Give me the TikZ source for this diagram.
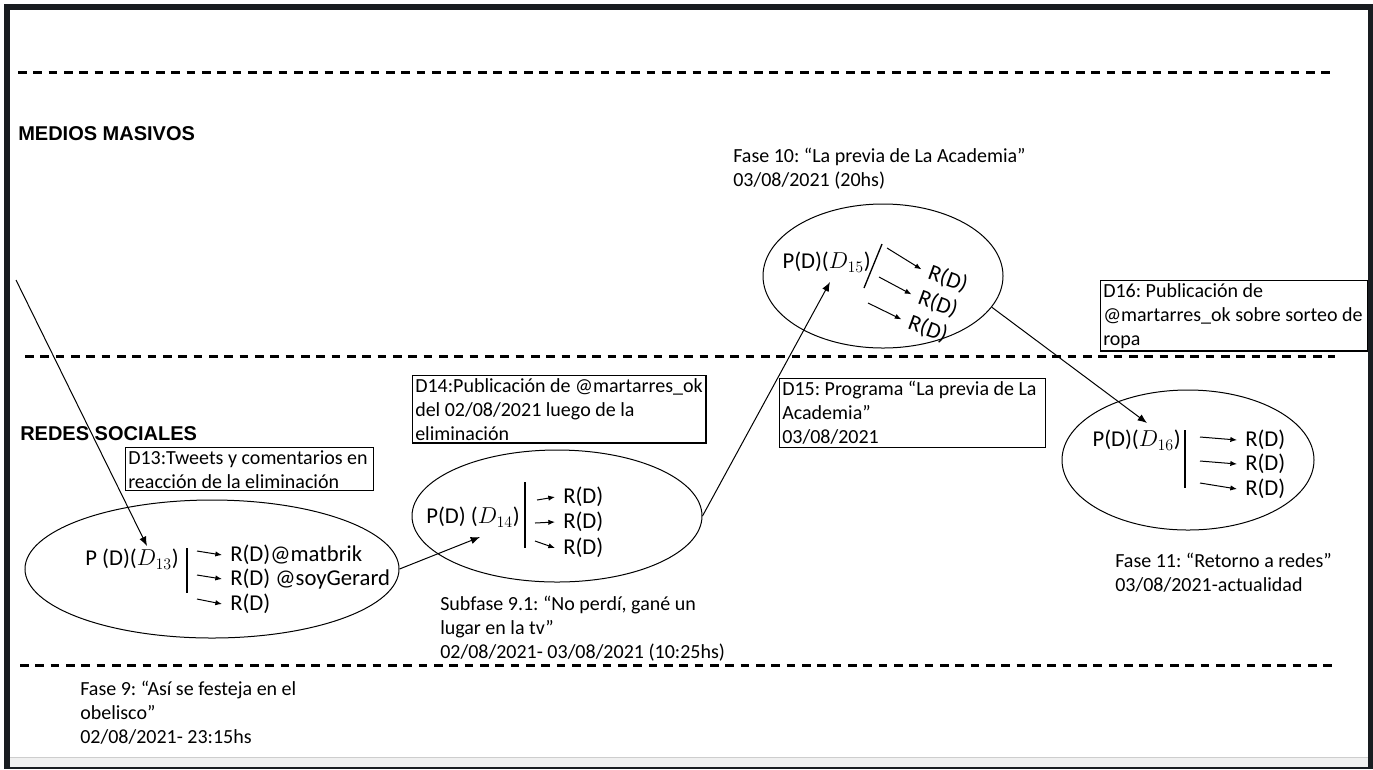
\documentclass[tikz,border=0pt]{standalone}
\usepackage{fontspec}
\setmainfont{Carlito}
\newfontfamily\headfont{Liberation Sans}
\usepackage{tikz}
\usetikzlibrary{arrows.meta, positioning, shapes.geometric}
\frenchspacing
\definecolor{frameink}{RGB}{24,28,32}
\definecolor{barsoft}{RGB}{240,240,240}
\definecolor{barline}{RGB}{205,205,205}
\newcommand{\boxfont}{\fontsize{15}{18}\selectfont}
\newcommand{\ovalfont}{\fontsize{17}{18}\selectfont}
\newcommand{\lanefont}{\headfont\bfseries\fontsize{15}{17}\selectfont}
\tikzset{
  >=Latex,
  band/.style={line width=2.25pt, dash pattern=on 6.5pt off 5pt},
  doc/.style={
    draw, line width=0.9pt, align=flush left, anchor=north west,
    inner sep=2pt, font=\boxfont
  },
  phase/.style={align=flush left, anchor=north west, inner sep=0pt, font=\boxfont},
  lane/.style={anchor=north west, inner sep=0pt, font=\lanefont},
  oval/.style={draw, ellipse, line width=0.75pt, inner sep=0pt},
  prod/.style={font=\ovalfont, inner sep=0pt},
  resp/.style={font=\ovalfont, inner xsep=6pt, inner ysep=0pt, anchor=west},
  link/.style={-{Latex[length=7pt,width=5.5pt]}, line width=0.75pt},
  tick/.style={-{Latex[length=5pt,width=4pt]}, line width=0.75pt},
  bar/.style={line width=1pt}
}

\begin{document}
\begin{tikzpicture}[x=0.75pt, y=-0.75pt]
  \useasboundingbox (0,0) rectangle (1373,769);
  \fill[white] (0,0) rectangle (1373,769);
  \fill[frameink] (4,4) rectangle (1373,769);
  \fill[white] (10,10) rectangle (1368,767);
  \fill[barsoft] (10,757) rectangle (1368,767);
  \draw[barline, line width=0.75pt] (10,757) -- (1368,757);

  \draw[band] (18,72) -- (1335,72);
  \draw[band] (25,356) -- (1335,356);
  \draw[band] (20,665) -- (1335,665);

  \node[lane] (mm) at (18,126) {MEDIOS MASIVOS};
  \node[lane] (rs) at (20,426) {REDES SOCIALES};

  \node[oval, minimum width=280.5pt, minimum height=103.5pt] (E13) at (212,569) {};
  \node[oval, minimum width=217.5pt, minimum height=99pt] (E14) at (557,516) {};
  \node[oval, minimum width=180pt, minimum height=108pt] (E15) at (883,276) {};
  \node[oval, minimum width=189pt, minimum height=105pt] (E16) at (1188,460) {};

  \node[prod, anchor=east] (P13) at (179,559) {P (D)($D_{13}$)};
  \draw[bar] (187,548) -- (187,593);
  \node[resp] (R13a) at (222,555) {R(D)@matbrik};
  \node[resp] (R13b) at (222,579) {R(D) @soyGerard};
  \node[resp] (R13c) at (222,604) {R(D)};
  \draw[tick] (197,551) -- (R13a.west);
  \draw[tick] (197,575) -- (R13b.west);
  \draw[tick] (197,599) -- (R13c.west);

  \node[prod, anchor=east] (P14) at (520,517) {P(D) ($D_{14}$)};
  \draw[bar] (525,482) -- (525,548);
  \node[resp] (R14a) at (555,497) {R(D)};
  \node[resp] (R14b) at (555,522) {R(D)};
  \node[resp] (R14c) at (555,548) {R(D)};
  \draw[tick] (537,500) -- (R14a.west);
  \draw[tick] (535,523) -- (R14b.west);
  \draw[tick] (535,541) -- (R14c.west);

  \node[prod, anchor=east] (P15) at (871,262) {P(D)($D_{15}$)};
  \draw[bar] (882,244) -- (864,288);
  \node[prod, rotate=-20, inner xsep=6pt] (R15a) at (948,279) {R(D)};
  \node[prod, rotate=-20, inner xsep=6pt] (R15b) at (938,304) {R(D)};
  \node[prod, rotate=-20, inner xsep=6pt] (R15c) at (928,329) {R(D)};
  \draw[tick] (887,248) -- (R15a.west);
  \draw[tick] (879,277) -- (R15b.west);
  \draw[tick] (868,303) -- (R15c.west);

  \node[prod, anchor=east] (P16) at (1181,440) {P(D)($D_{16}$)};
  \draw[bar] (1185,430) -- (1185,488);
  \node[resp] (R16a) at (1237,440) {R(D)};
  \node[resp] (R16b) at (1237,464) {R(D)};
  \node[resp] (R16c) at (1237,489) {R(D)};
  \draw[tick] (1200,437) -- (R16a.west);
  \draw[tick] (1200,461) -- (R16b.west);
  \draw[tick] (1200,483) -- (R16c.west);

  \node[doc, text width=182pt] (D13) at (125,447)
    {D13:Tweets y comentarios en\\reacción de la eliminación};
  \node[doc, text width=216pt] (D14) at (412,375)
    {D14:Publicación de @martarres\_ok\\del 02/08/2021 luego de la\\eliminación};
  \node[doc, text width=195.5pt] (D15) at (779,378)
    {D15: Programa “La previa de La\\Academia”\\03/08/2021};
  \node[doc, text width=196pt] (D16) at (1100,280)
    {D16: Publicación de\\@martarres\_ok sobre sorteo de\\ropa};

  \node[phase] (F9) at (80,681)
    {Fase 9: “Así se festeja en el\\obelisco”\\02/08/2021- 23:15hs};
  \node[phase] (F91) at (440,596)
    {Subfase 9.1: “No perdí, gané un\\lugar en la tv”\\02/08/2021- 03/08/2021 (10:25hs)};
  \node[phase] (F10) at (733,148)
    {Fase 10: “La previa de La Academia”\\03/08/2021 (20hs)};
  \node[phase] (F11) at (1115,553)
    {Fase 11: “Retorno a redes”\\03/08/2021-actualidad};

  \coordinate (src) at (16,280);
  \coordinate (in13) at (147,546);
  \coordinate (in14) at (480,537);
  \coordinate (in15) at (830,282);
  \coordinate (in16) at (1147,423);
  \draw[link] (src) -- (in13);
  \draw[link] (E13.east) -- (in14);
  \draw[link] (E14.east) -- (in15);
  \draw[link] (E15.-16) -- (in16);
\end{tikzpicture}
\end{document}
